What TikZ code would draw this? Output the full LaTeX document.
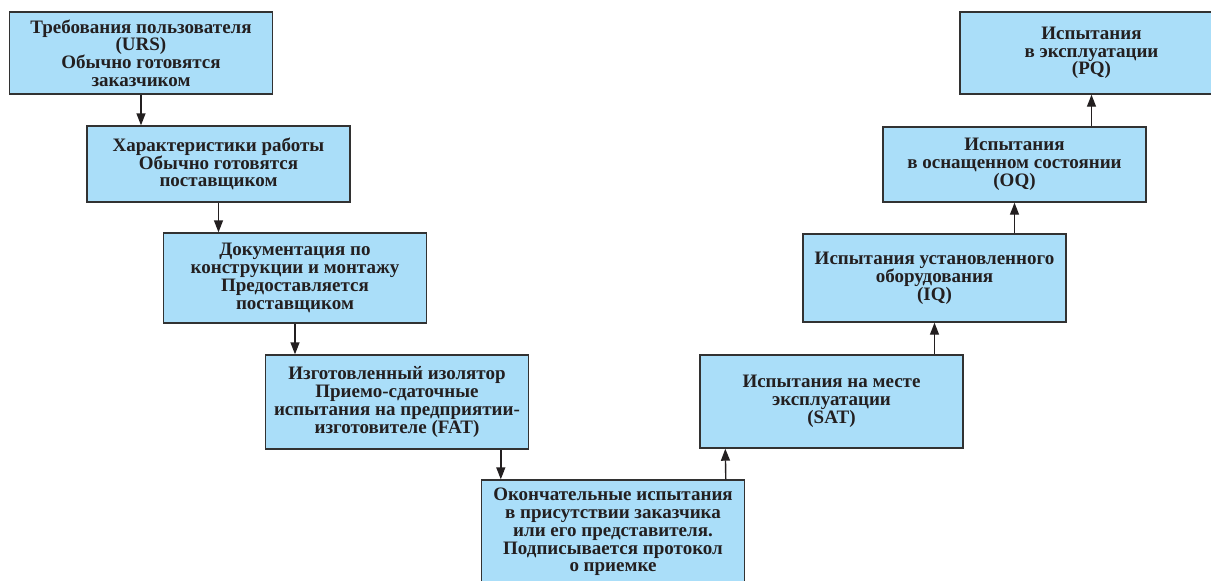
\documentclass[tikz,border=0pt]{standalone}
\usepackage{fontspec}
\setmainfont{Liberation Serif}
\usetikzlibrary{arrows.meta,calc}
\definecolor{boxfill}{RGB}{170,222,249}
\definecolor{boxline}{RGB}{50,50,50}
\definecolor{ink}{RGB}{35,31,32}
\tikzset{
  stagebox/.style={draw=boxline, line width=1.4pt, fill=boxfill, rectangle, inner sep=0pt,
    minimum width=263pt, align=center, font=\bfseries\fontsize{19}{17.8}\selectfont, text=ink},
  arr/.style={line width=1.4pt, draw=ink, -{Triangle[length=12pt,width=9pt]}}
}
\begin{document}
\begin{tikzpicture}[x=1pt,y=-1pt]
\useasboundingbox (0,0) rectangle (1211,581);
\node[stagebox, minimum height=82pt] (b1) at (141,53) {Требования пользователя\\(URS)\\Обычно готовятся\\заказчиком};
\node[stagebox, minimum height=76pt] (b2) at (218.5,164) {Характеристики работы\\Обычно готовятся\\поставщиком};
\node[stagebox, minimum height=90pt] (b3) at (295,278) {Документация по\\конструкции и монтажу\\Предоставляется\\поставщиком};
\node[stagebox, minimum height=94pt] (b4) at (397,402) {Изготовленный изолятор\\Приемо-сдаточные\\испытания на предприятии-\\изготовителе (FAT)};
\node[stagebox, minimum height=104pt] (b5) at (613,532) {Окончательные испытания\\в присутствии заказчика\\или его представителя.\\Подписывается протокол\\о приемке};
\node[stagebox, minimum height=93pt] (sat) at (831.5,401.5) {Испытания на месте\\эксплуатации\\(SAT)};
\node[stagebox, minimum height=88pt] (iq) at (934.5,278) {Испытания установленного\\оборудования\\(IQ)};
\node[stagebox, minimum height=75pt] (oq) at (1014.5,164.5) {Испытания\\в оснащенном состоянии\\(OQ)};
\node[stagebox, minimum height=82pt] (pq) at (1091.5,53) {Испытания\\в эксплуатации\\(PQ)};
\draw[arr] (b1.south) -- (b1.south |- b2.north);
\draw[arr] (b2.south) -- (b2.south |- b3.north);
\draw[arr] (b3.south) -- (b3.south |- b4.north);
\draw[arr] ($(b4.south west)+(236,0)$) -- ($(b5.north west)+(20,0)$);
\draw[arr] ($(b5.north west)+(245,0)$) -- ($(sat.south west)+(26,0)$);
\draw[arr] (iq.south |- sat.north) -- (iq.south);
\draw[arr] (oq.south |- iq.north) -- (oq.south);
\draw[arr] (pq.south |- oq.north) -- (pq.south);
\end{tikzpicture}
\end{document}
